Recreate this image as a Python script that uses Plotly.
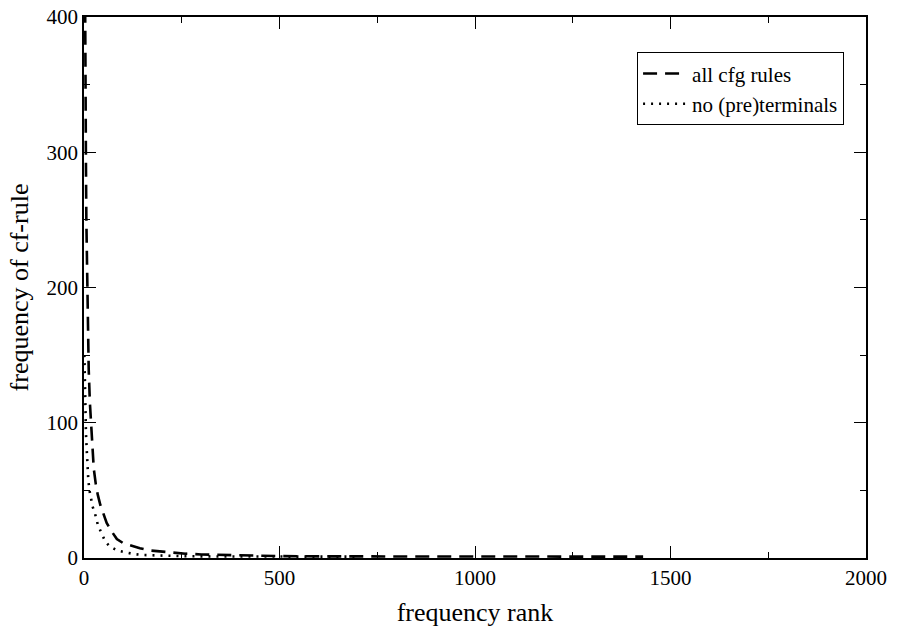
import plotly.graph_objects as go

# all cfg rules
rank_all = [1, 2, 3, 4, 5, 6, 8, 10, 12, 15, 18, 22, 25, 30, 35, 42, 50, 58, 70, 84, 100, 120, 143,
            170, 211, 260, 300, 348, 400, 500, 600, 800, 1000, 1200, 1430]
freq_all = [520, 430, 380, 330, 290, 250, 200, 165, 140, 115, 98, 78, 66, 55, 47, 39, 32, 26, 20, 14,
            11, 9, 7.2, 5.5, 4.2, 3.2, 2.6, 2.2, 1.8, 1.4, 1.2, 1.1, 1, 1, 1]

# no (pre)terminals
rank_np = [1, 2, 3, 5, 7, 9, 11, 14, 18, 22, 28, 35, 45, 55, 66, 85, 109, 130, 151, 200, 260, 350, 500, 700]
freq_np = [150, 125, 110, 92, 80, 68, 58, 50, 44, 38, 33, 25, 18, 12, 8.5, 5.5, 4, 2.8, 2.2, 1.6, 1.3, 1.1, 1, 1]

fig = go.Figure()
fig.add_trace(go.Scatter(x=rank_all, y=freq_all, mode="lines", name="all cfg rules",
                         line=dict(color="black", width=2.6, dash="14px,8px")))
fig.add_trace(go.Scatter(x=rank_np, y=freq_np, mode="lines", name="no (pre)terminals",
                         line=dict(color="black", width=2.6, dash="2px,6px")))

axis_common = dict(showgrid=False, zeroline=False, showline=True, linecolor="black", linewidth=1.5,
                   mirror="allticks", ticks="inside", ticklen=12, tickcolor="black", tickwidth=1.2,
                   automargin=False, ticklabeloverflow="allow",
                   tickfont=dict(family="Liberation Serif", size=21, color="black"))

fig.update_xaxes(range=[0, 2000], tickvals=[0, 500, 1000, 1500, 2000],
                 minor=dict(ticks="inside", dtick=250, ticklen=6, tickcolor="black", tickwidth=1.2),
                 title=dict(text="frequency rank", font=dict(family="Liberation Serif", size=26, color="black"),
                            standoff=14),
                 **axis_common)
fig.update_yaxes(range=[0, 400], tickvals=[0, 100, 200, 300, 400],
                 minor=dict(ticks="inside", dtick=50, ticklen=6, tickcolor="black", tickwidth=1.2),
                 title=dict(text="frequency of cf-rule", font=dict(family="Liberation Serif", size=26, color="black"),
                            standoff=10),
                 **axis_common)

fig.update_layout(
    width=901, height=636,
    margin=dict(l=84, r=35, t=17, b=78),
    paper_bgcolor="white", plot_bgcolor="white",
    font=dict(family="Liberation Serif", color="black"),
    legend=dict(x=0.707, y=0.935, xanchor="left", yanchor="top",
                bordercolor="black", borderwidth=1.2, bgcolor="white",
                font=dict(family="Liberation Serif", size=21, color="black"),
                tracegroupgap=0, itemwidth=44),
    showlegend=True,
)

fig.write_html("out.html", config={"displayModeBar": False},
               post_script="document.body.style.margin='0';")
